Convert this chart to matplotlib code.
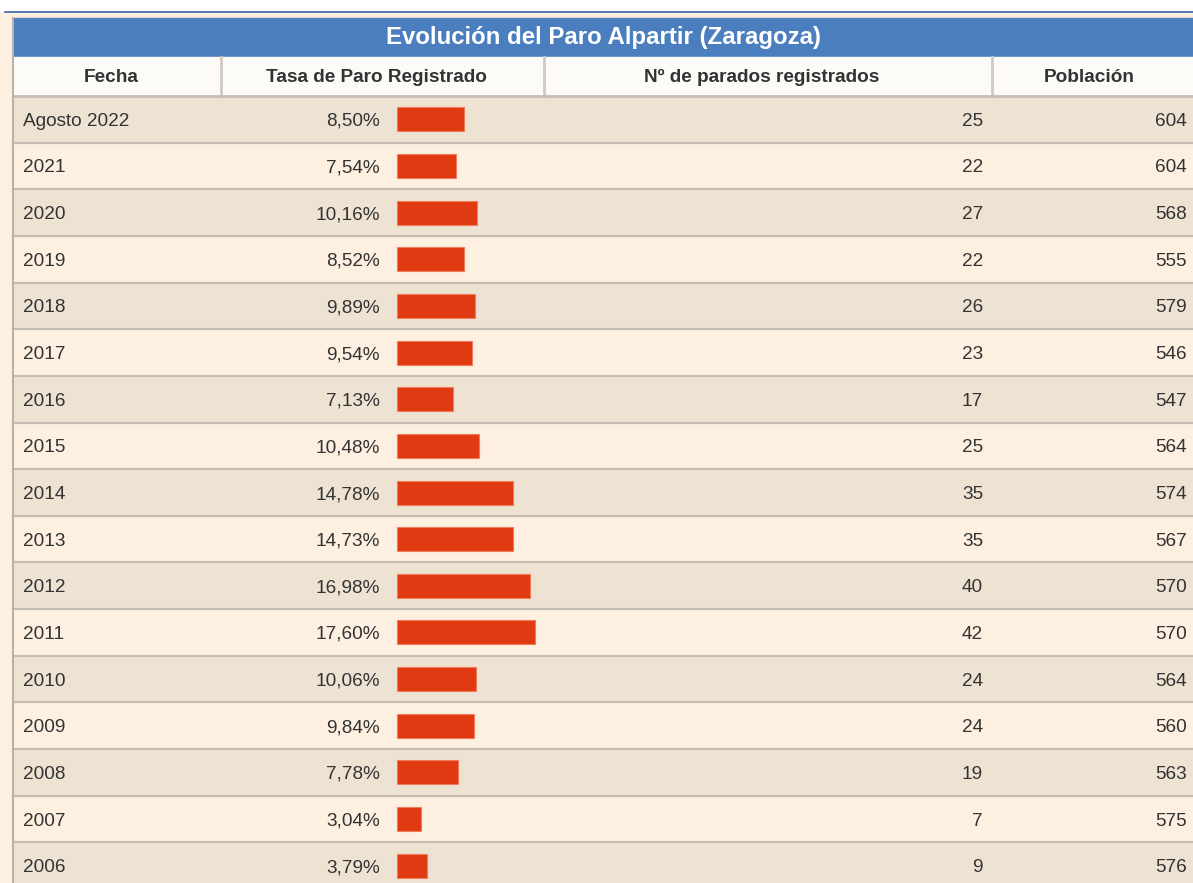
import matplotlib
matplotlib.use("Agg")
import matplotlib.pyplot as plt
from matplotlib.patches import Rectangle

plt.rcParams['font.family'] = ['Liberation Sans', 'DejaVu Sans']

titulo = "Evolución del Paro Alpartir (Zaragoza)"
cabeceras = ["Fecha", "Tasa de Paro Registrado", "Nº de parados registrados", "Población"]
fechas = ["Agosto 2022", "2021", "2020", "2019", "2018", "2017", "2016", "2015", "2014",
          "2013", "2012", "2011", "2010", "2009", "2008", "2007", "2006"]
tasa = [8.50, 7.54, 10.16, 8.52, 9.89, 9.54, 7.13, 10.48, 14.78,
        14.73, 16.98, 17.60, 10.06, 9.84, 7.78, 3.04, 3.79]
parados = [25, 22, 27, 22, 26, 23, 17, 25, 35, 35, 40, 42, 24, 24, 19, 7, 9]
poblacion = [604, 604, 568, 555, 579, 546, 547, 564, 574, 567, 570, 570, 564, 560, 563, 575, 576]

W, H = 1193, 883
fig = plt.figure(figsize=(W / 100, H / 100), dpi=100)
ax = fig.add_axes([0, 0, 1, 1])
ax.set_xlim(0, W)
ax.set_ylim(H, 0)
ax.axis('off')

azul = '#4a7ebf'
claro = '#fdf0e1'
oscuro = '#eee3d3'
linea = '#c4bdb4'
texto = '#333333'
rojo = '#e03a12'

# fondo
ax.add_patch(Rectangle((0, 12), W, H, color=claro, zorder=0))
ax.plot([5, W], [11.5, 11.5], color='#3a66a8', lw=1.2, zorder=1)

x0 = 13
cols = [x0, 221, 544, 992, W + 5]
top_title, top_head, top_rows = 18, 57, 96
row_h = 46.65

# titulo
ax.add_patch(Rectangle((x0, top_title), W, top_head - top_title, color=azul, zorder=1))
ax.text((x0 + W) / 2, (top_title + top_head) / 2, titulo, color='white', fontsize=17.3,
        fontweight='bold', ha='center', va='center', zorder=3)

# cabecera
ax.add_patch(Rectangle((x0, top_head), W, top_rows - top_head, color='#fdfbf7', zorder=1))
for i, c in enumerate(cabeceras):
    ax.text((cols[i] + cols[i + 1]) / 2 - 6, (top_head + top_rows) / 2 + 1, c, color=texto,
            fontsize=13.7, fontweight='bold', ha='center', va='center', zorder=3)
for xc in cols[1:4]:
    ax.plot([xc, xc], [top_head, top_rows], color='#cfcac3', lw=2, zorder=2)
ax.plot([x0, W], [top_rows - 0.5, top_rows - 0.5], color=linea, lw=2, zorder=2)

# filas
escala = 7.85
centros = [top_rows + row_h * (i + 0.5) for i in range(len(fechas))]
for i, yc in enumerate(centros):
    y = top_rows + row_h * i
    ax.add_patch(Rectangle((x0, y), W, row_h, color=oscuro if i % 2 == 0 else claro, zorder=1))
    ax.plot([x0, W], [y + row_h, y + row_h], color=linea, lw=1.6, zorder=2)
    yt = yc + 2
    ax.text(23, yt, fechas[i], color=texto, fontsize=13.7, ha='left', va='center', zorder=3)
    ax.text(380, yt, f"{tasa[i]:.2f}%".replace('.', ','), color=texto, fontsize=13.7,
            ha='right', va='center', zorder=3)
    ax.text(983, yt, str(parados[i]), color=texto, fontsize=13.7, ha='right', va='center', zorder=3)
    ax.text(1187, yt, str(poblacion[i]), color=texto, fontsize=13.7, ha='right', va='center', zorder=3)

ax.barh(centros, [t * escala for t in tasa], left=397, height=24, color=rojo,
        edgecolor='#f07a5a', linewidth=0.8, zorder=3)

ax.plot([x0, x0], [top_title, H], color='#b8b2aa', lw=1.5, zorder=2)

fig.savefig('out.png', dpi=100)
